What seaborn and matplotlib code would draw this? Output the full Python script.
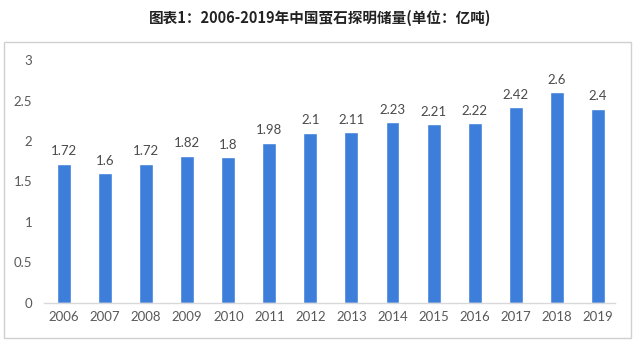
import matplotlib
matplotlib.use("Agg")
import matplotlib.pyplot as plt
import seaborn as sns
import pandas as pd
from matplotlib.patches import Rectangle

years = ["2006", "2007", "2008", "2009", "2010", "2011", "2012",
         "2013", "2014", "2015", "2016", "2017", "2018", "2019"]
reserves = [1.72, 1.6, 1.72, 1.82, 1.8, 1.98, 2.1,
            2.11, 2.23, 2.21, 2.22, 2.42, 2.6, 2.4]
value_labels = ["1.72", "1.6", "1.72", "1.82", "1.8", "1.98", "2.1",
                "2.11", "2.23", "2.21", "2.22", "2.42", "2.6", "2.4"]
title = "图表1：2006-2019年中国萤石探明储量(单位：亿吨)"

sns.set_theme(style="white")
plt.rcParams["font.family"] = ["Lato", "Noto Sans CJK SC", "DejaVu Sans"]

df = pd.DataFrame({"year": years, "value": reserves})

fig = plt.figure(figsize=(6.4, 3.47), dpi=100)
ax = fig.add_axes([0.068, 0.127, 0.893, 0.700])

sns.barplot(data=df, x="year", y="value", color="#3C7EDA", width=0.34,
            saturation=1, ax=ax)

ax.set_xlim(-0.5, 13.42)
ax.set_ylim(0, 3)
ax.set_yticks([0, 0.5, 1, 1.5, 2, 2.5, 3])
ax.set_yticklabels(["0", "0.5", "1", "1.5", "2", "2.5", "3"])
ax.set_xlabel("")
ax.set_ylabel("")
ax.tick_params(axis="both", length=0, labelsize=9.5, colors="#595959")
ax.tick_params(axis="y", pad=8)
ax.tick_params(axis="x", pad=6)
for side in ["top", "right", "left"]:
    ax.spines[side].set_visible(False)
ax.spines["bottom"].set_color("#D9D9D9")
ax.spines["bottom"].set_linewidth(1)

for i, (v, lab) in enumerate(zip(reserves, value_labels)):
    ax.text(i, v + 0.08, lab, ha="center", va="bottom", fontsize=9.5,
            color="#4A4A4A")

fig.text(0.5, 0.948, title, ha="center", va="center", fontsize=10.5,
         fontweight="bold", color="#222222",
         family=["Noto Sans CJK SC", "DejaVu Sans"])

fig.patches.append(Rectangle((4 / 640, 9 / 347), 627 / 640, 296 / 347,
                             transform=fig.transFigure, fill=False,
                             edgecolor="#D0D0D0", linewidth=1))

fig.savefig("out.png", dpi=100)
